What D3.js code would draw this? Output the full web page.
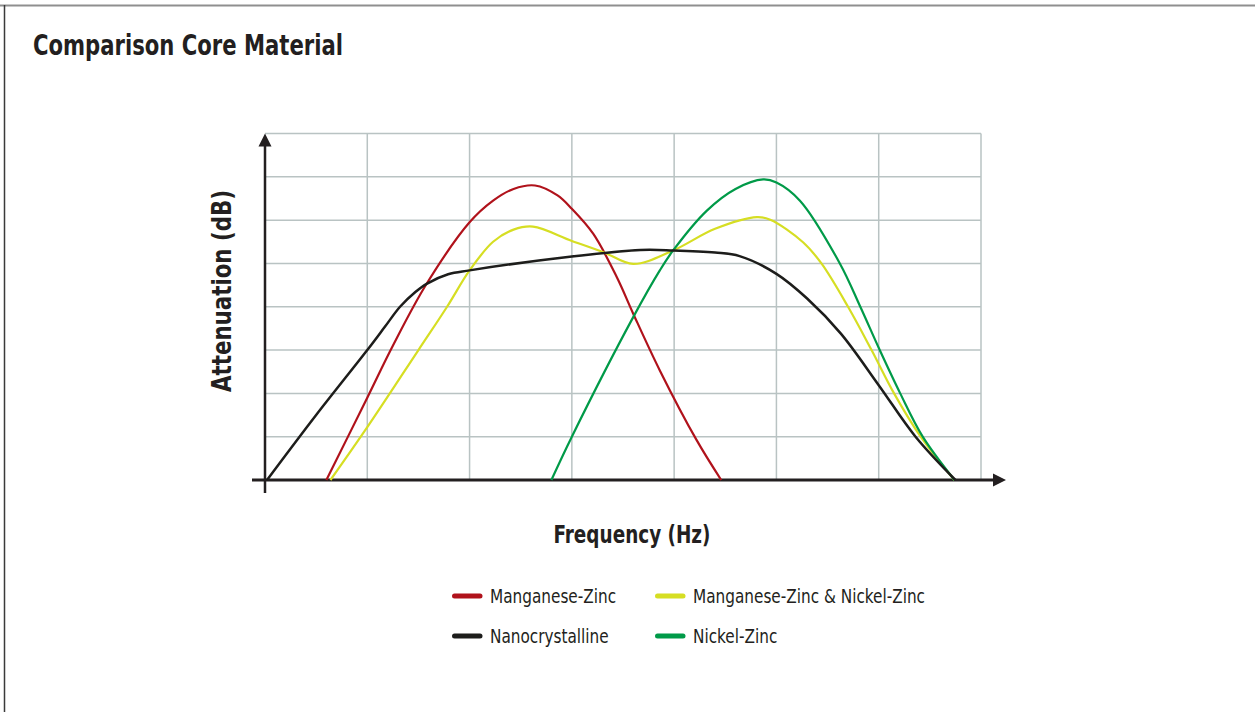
<!DOCTYPE html>
<html>
<head>
<meta charset="utf-8">
<script src="https://cdn.jsdelivr.net/npm/d3@7"></script>
<style>
  body { margin: 0; background: #fff; }
  svg { display: block; }
  text { fill: #231f20; }
</style>
</head>
<body>
<div id="chart"></div>
<script>
// data (x in grid columns, y in grid rows)
const seriesNames = ["Manganese-Zinc", "Manganese-Zinc & Nickel-Zinc", "Nanocrystalline", "Nickel-Zinc"];
const seriesColors = ["#b0121b", "#d6de23", "#1d1d1b", "#009a48"];

const mnznX = [0.60, 1.00, 1.25, 1.58, 2.00, 2.23, 2.43, 2.64, 2.86, 3.00, 3.21, 3.44, 3.60, 3.86, 4.22, 4.46];
const mnznY = [0, 1.90, 3.10, 4.53, 5.95, 6.45, 6.72, 6.80, 6.57, 6.26, 5.68, 4.68, 3.84, 2.53, 0.92, 0];

const mixX = [0.64, 1.00, 1.50, 1.78, 2.00, 2.23, 2.43, 2.62, 3.00, 3.31, 3.60, 3.99, 4.40, 4.81, 4.94, 5.26, 5.44, 5.70, 5.93, 6.15, 6.41, 6.74];
const mixY = [0, 1.22, 3.00, 4.00, 4.84, 5.50, 5.78, 5.85, 5.52, 5.26, 4.99, 5.30, 5.80, 6.07, 6.01, 5.49, 5.00, 4.00, 3.00, 2.00, 1.00, 0];

const nanoX = [0.02, 0.50, 1.00, 1.17, 1.32, 1.47, 1.58, 1.79, 2.00, 3.00, 3.67, 3.99, 4.40, 4.64, 5.00, 5.30, 5.63, 6.00, 6.36, 6.75];
const nanoY = [0, 1.50, 3.00, 3.53, 4.00, 4.34, 4.53, 4.75, 4.84, 5.16, 5.31, 5.30, 5.25, 5.17, 4.76, 4.19, 3.38, 2.19, 1.00, 0];

const niznX = [2.80, 3.00, 3.60, 3.86, 3.99, 4.32, 4.60, 4.87, 5.00, 5.23, 5.62, 5.82, 6.01, 6.21, 6.43, 6.74];
const niznY = [0, 1.00, 3.76, 4.84, 5.30, 6.22, 6.72, 6.94, 6.87, 6.45, 5.00, 4.00, 3.00, 2.00, 1.00, 0];

const xTicks = [0, 1, 2, 3, 4, 5, 6, 7];
const yTicks = [1, 2, 3, 4, 5, 6, 7, 8];

const width = 1255, height = 712;
const condensed = "'Liberation Sans Narrow', 'DejaVu Sans Condensed', sans-serif";

const series = [
  { name: seriesNames[0], color: seriesColors[0], xs: mnznX, ys: mnznY },
  { name: seriesNames[1], color: seriesColors[1], xs: mixX, ys: mixY },
  { name: seriesNames[2], color: seriesColors[2], xs: nanoX, ys: nanoY },
  { name: seriesNames[3], color: seriesColors[3], xs: niznX, ys: niznY },
];
// draw order: red, yellow, green, black on top where they cross
const drawOrder = [0, 1, 3, 2];

const x = d3.scaleLinear().domain([0, 7]).range([265, 981]);
const y = d3.scaleLinear().domain([0, 8]).range([480, 133.5]);

const svg = d3.select("#chart").append("svg")
  .attr("width", width)
  .attr("height", height)
  .attr("viewBox", [0, 0, width, height]);

// frame
svg.append("line")
  .attr("x1", 0).attr("x2", width).attr("y1", 5.5).attr("y2", 5.5)
  .attr("stroke", "#8f8f8f").attr("stroke-width", 2);
svg.append("line")
  .attr("x1", 4.5).attr("x2", 4.5).attr("y1", 5).attr("y2", height)
  .attr("stroke", "#3a3a3a").attr("stroke-width", 1.5);

svg.append("text")
  .attr("x", 33).attr("y", 55)
  .attr("font-family", condensed)
  .attr("font-weight", "bold")
  .attr("font-size", 28)
  .attr("textLength", 310)
  .attr("lengthAdjust", "spacingAndGlyphs")
  .text("Comparison Core Material");

// grid
const grid = svg.append("g").attr("stroke", "#b9c3c3").attr("stroke-width", 1.5);
grid.selectAll(".v").data(xTicks.slice(1)).join("line")
  .attr("x1", d => x(d)).attr("x2", d => x(d))
  .attr("y1", y(0)).attr("y2", y(8));
grid.selectAll(".h").data(yTicks).join("line")
  .attr("x1", x(0)).attr("x2", x(7))
  .attr("y1", d => y(d)).attr("y2", d => y(d));

// axes with arrows
const axisColor = "#231f20";
svg.append("line")
  .attr("x1", x(0) - 13).attr("x2", x(7) + 14)
  .attr("y1", y(0)).attr("y2", y(0))
  .attr("stroke", axisColor).attr("stroke-width", 2.8);
svg.append("path")
  .attr("d", `M${x(7) + 25},${y(0)} L${x(7) + 12},${y(0) - 6.5} L${x(7) + 12},${y(0) + 6.5} Z`)
  .attr("fill", axisColor);
svg.append("line")
  .attr("x1", x(0)).attr("x2", x(0))
  .attr("y1", y(0) + 13).attr("y2", y(8) + 12)
  .attr("stroke", axisColor).attr("stroke-width", 2.5);
svg.append("path")
  .attr("d", `M${x(0)},${y(8)} L${x(0) - 6.5},${y(8) + 13} L${x(0) + 6.5},${y(8) + 13} Z`)
  .attr("fill", axisColor);

// curves
const line = d3.line()
  .x(d => x(d[0]))
  .y(d => y(d[1]))
  .curve(d3.curveCatmullRom.alpha(0.5));

svg.append("g")
  .attr("fill", "none")
  .attr("stroke-linejoin", "round")
  .selectAll("path")
  .data(drawOrder.map(i => series[i]))
  .join("path")
  .attr("stroke", d => d.color)
  .attr("stroke-width", d => d.name === "Nanocrystalline" ? 2.5 : 2.2)
  .attr("d", d => line(d.xs.map((v, i) => [v, d.ys[i]])));

// axis titles
svg.append("text")
  .attr("x", 632).attr("y", 543)
  .attr("text-anchor", "middle")
  .attr("font-family", condensed)
  .attr("font-weight", "bold")
  .attr("font-size", 25)
  .attr("textLength", 157)
  .attr("lengthAdjust", "spacingAndGlyphs")
  .text("Frequency (Hz)");

svg.append("text")
  .attr("transform", "translate(231,291) rotate(-90)")
  .attr("text-anchor", "middle")
  .attr("font-family", condensed)
  .attr("font-weight", "bold")
  .attr("font-size", 27)
  .attr("textLength", 202)
  .attr("lengthAdjust", "spacingAndGlyphs")
  .text("Attenuation (dB)");

// legend
const legendCols = [452, 655];
const legendRows = [596, 636];
const legend = svg.append("g")
  .selectAll("g")
  .data(series)
  .join("g")
  .attr("transform", (d, i) => `translate(${legendCols[i % 2]},${legendRows[Math.floor(i / 2)]})`);

legend.append("line")
  .attr("x1", 2.5).attr("x2", 28)
  .attr("stroke", d => d.color)
  .attr("stroke-width", 5)
  .attr("stroke-linecap", "round");

legend.append("text")
  .attr("transform", "translate(38,7) scale(0.85,1)")
  .attr("font-family", condensed)
  .attr("font-size", 20)
  .attr("fill", "#2a2627")
  .text(d => d.name);
</script>
</body>
</html>
